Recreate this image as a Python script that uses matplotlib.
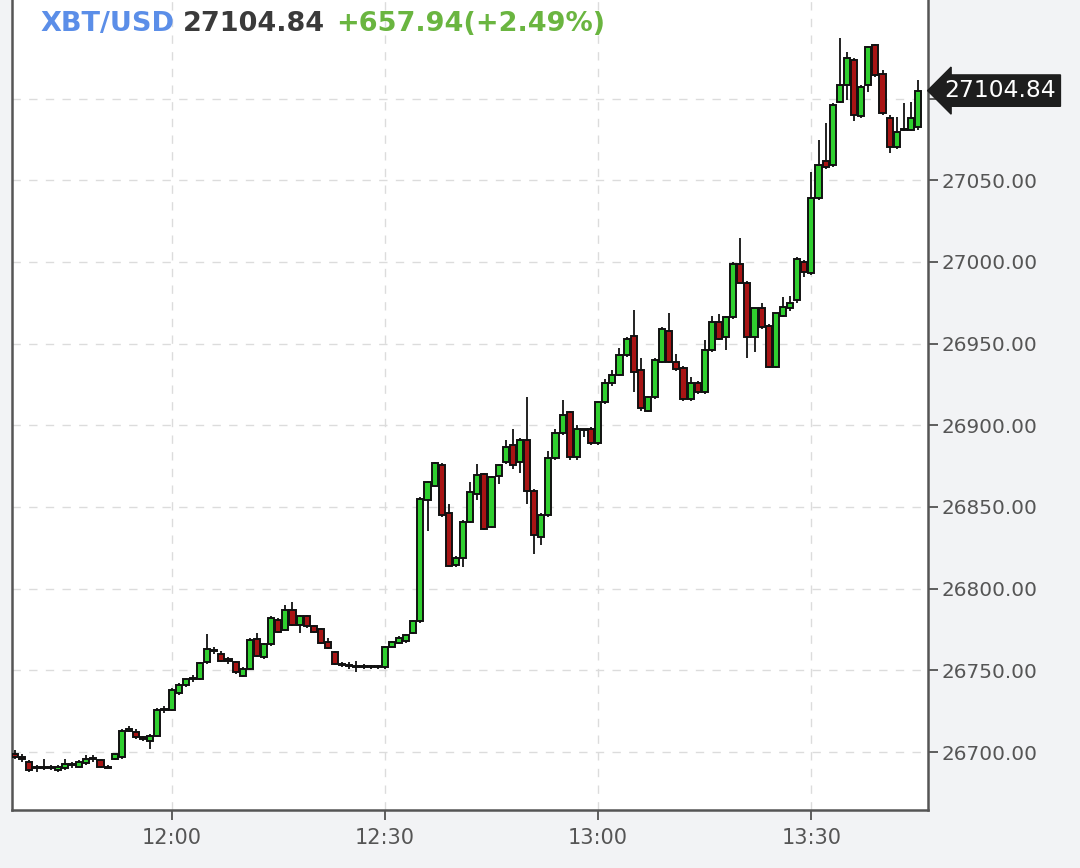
import numpy as np
import pandas as pd
import matplotlib
matplotlib.use("Agg")
import matplotlib.pyplot as plt
import matplotlib.dates as mdates
import matplotlib.transforms as mtransforms

# Candele da 1 minuto, 11:38 -> 13:45
opens = [26699, 26697, 26694, 26690, 26690, 26691, 26689, 26690, 26692, 26691,
         26693, 26696, 26695, 26690.5, 26695.5, 26697, 26713, 26712.5, 26709, 26707,
         26710, 26726, 26726, 26736, 26741, 26744.5, 26744.5, 26755, 26762, 26760,
         26757, 26755, 26746.5, 26750.6, 26769, 26758, 26766, 26781, 26774.6, 26787,
         26778, 26783, 26777, 26775, 26767.5, 26761, 26754, 26753, 26752, 26752.5,
         26752, 26752.5, 26752, 26764.5, 26767, 26768, 26772.6, 26780, 26854, 26863,
         26875.6, 26846, 26814.5, 26818.5, 26841, 26858, 26870.4, 26837.8, 26868.8, 26877.6,
         26887.8, 26877.6, 26891, 26860, 26831.6, 26845, 26880, 26895, 26908, 26880.7,
         26897, 26898, 26889, 26914, 26925.6, 26930.7, 26943, 26954.6, 26933.8, 26909,
         26917.4, 26939, 26958, 26939, 26935, 26916, 26925.6, 26920.5, 26946, 26963.3,
         26954, 26966, 26999, 26987, 26954, 26971.5, 26961, 26935.8, 26967, 26971.5,
         26976.6, 27000, 26993, 27039, 27062, 27059.4, 27098, 27108, 27123.6, 27089,
         27108, 27132.8, 27115, 27088, 27070.5, 27081, 27081, 27082.8]
highs = [26701, 26699, 26695, 26692, 26696, 26692, 26692, 26696, 26694, 26695,
         26698, 26698, 26696, 26692, 26699, 26714, 26716, 26714, 26710, 26711,
         26727, 26728, 26739, 26742, 26745, 26747, 26755, 26772, 26764, 26762,
         26758, 26756, 26752, 26770, 26773, 26767, 26783, 26782, 26790, 26792,
         26784, 26784, 26778, 26776, 26770, 26762, 26755, 26755, 26756, 26754,
         26753, 26753, 26765, 26768, 26771, 26772, 26781, 26856, 26866, 26877.5,
         26877, 26852, 26820, 26842, 26865, 26876, 26871, 26869, 26876, 26891,
         26898, 26892, 26917, 26861, 26846, 26884, 26898, 26915.4, 26909, 26900,
         26898, 26899, 26915, 26928.6, 26933.8, 26947, 26954, 26970.5, 26941, 26918,
         26941, 26960, 26968.5, 26943.6, 26936, 26929.5, 26927, 26952, 26967, 26968,
         26967, 27000, 27014.4, 26988, 26972, 26975, 26962, 26969, 26978.7, 26979,
         27003, 27001, 27055, 27074.7, 27085, 27097, 27137, 27128.7, 27125, 27108,
         27132, 27133.5, 27117.5, 27090, 27088.9, 27097, 27098, 27111.4]
lows = [26696, 26694, 26688, 26688, 26689, 26689, 26688, 26689, 26690, 26690,
        26692, 26694, 26690, 26690, 26695, 26696, 26712, 26708, 26707, 26702,
        26709, 26724, 26725, 26735, 26740, 26743, 26744, 26754, 26760, 26755,
        26754, 26748, 26746, 26750, 26758, 26757, 26765, 26773, 26774, 26777,
        26773, 26776, 26773, 26766, 26763, 26753, 26752, 26751, 26749, 26751,
        26751, 26751, 26751, 26764, 26766, 26767, 26772, 26779, 26835, 26862,
        26844, 26813, 26813, 26813, 26840, 26854, 26836, 26837, 26864, 26876,
        26873.5, 26871, 26852, 26821.5, 26826.5, 26844, 26879, 26894, 26878.6, 26879,
        26892.8, 26888, 26888, 26913, 26924, 26930, 26942, 26920.5, 26909, 26908,
        26916, 26938, 26938, 26933, 26915, 26915, 26919, 26919, 26945, 26952,
        26946, 26965, 26998, 26941, 26945, 26959, 26935, 26935, 26966, 26970,
        26975, 26991, 26992, 27038, 27057, 27058, 27097, 27099, 27086, 27088,
        27104, 27113, 27090, 27066.7, 27069, 27080, 27080, 27081]
closes = [26697, 26696, 26689, 26691, 26691, 26690, 26691, 26692.5, 26692.5, 26694,
          26696, 26696.5, 26690.6, 26691, 26699, 26713, 26714, 26709, 26708, 26710,
          26726, 26726.5, 26738, 26741, 26744.5, 26745, 26754.5, 26763, 26762.5, 26756,
          26755.5, 26749, 26751, 26768.5, 26759, 26766, 26782, 26773.6, 26787, 26778,
          26783, 26777, 26773.6, 26766.5, 26763.5, 26754, 26753, 26752.5, 26752.5, 26752,
          26752.5, 26752, 26764.4, 26767.5, 26770, 26771.6, 26780, 26855, 26865.4, 26876.7,
          26845, 26814, 26818.5, 26841, 26859, 26869.4, 26836.8, 26868.4, 26875.5, 26886.4,
          26875.5, 26891, 26860, 26832.7, 26845, 26880, 26895, 26906, 26880.7, 26898,
          26897.5, 26889, 26914.4, 26925.6, 26930.7, 26943, 26953, 26932.7, 26910.3, 26917.4,
          26940, 26958.7, 26939, 26934.6, 26915.8, 26925.6, 26920.5, 26946, 26963.3, 26953,
          26966.4, 26999, 26987, 26954, 26971.5, 26960, 26935.8, 26968.5, 26972.5, 26975,
          27002, 26994, 27039, 27059.4, 27058, 27096, 27108, 27124.7, 27090, 27107,
          27131.8, 27114.4, 27091, 27070.5, 27079.7, 27081.5, 27088, 27104.84]

ultimo_prezzo = "27104.84"
variazione = "+657.94(+2.49%)"
simbolo = "XBT/USD"
livelli_y = [26700, 26750, 26800, 26850, 26900, 26950, 27000, 27050, 27100]

# Asse dei tempi
orari = pd.date_range("2023-05-01 11:38", periods=len(closes), freq="min")
x = mdates.date2num(orari.to_pydatetime())
o = np.array(opens)
c = np.array(closes)
colori = np.where(c >= o, "#2fcf2f", "#a81414")
larghezza = 0.86 / 1440

fig = plt.figure(figsize=(10.8, 8.68), dpi=100, facecolor="#f2f3f5")
ax = fig.add_axes([12 / 1080, 1 - 810 / 868, 916 / 1080, 810 / 868])
ax.set_facecolor("white")

# Griglia tratteggiata
for v in livelli_y:
    ax.axhline(v, color="#dcdcdc", lw=1, ls=(0, (6, 6)), zorder=0)
ax.xaxis.set_major_locator(mdates.MinuteLocator(byminute=[0, 30]))
ax.xaxis.set_major_formatter(mdates.DateFormatter("%H:%M"))
ax.grid(axis="x", color="#dcdcdc", lw=1, ls=(0, (6, 6)), zorder=0)

# Candele
ax.vlines(x, lows, highs, color="#222222", lw=1.4, zorder=2)
ax.bar(x, c - o, bottom=o, width=larghezza, color=colori,
       edgecolor="#111111", linewidth=1.4, zorder=3)

ax.set_xlim(x[0] - 0.45 / 1440, x[0] + 128.4 / 1440)
ax.set_ylim(26664.5, 27160.3)

# Assi
ax.yaxis.tick_right()
ax.set_yticks(livelli_y)
ax.set_yticklabels([f"{v:.2f}" if v < 27100 else "" for v in livelli_y])
ax.tick_params(axis="y", length=7, width=1.2, color="#444444", labelsize=14.4,
               labelcolor="#555555", pad=3)
ax.tick_params(axis="x", length=7, width=1.2, color="#444444", labelsize=15,
               labelcolor="#555555", pad=6)
for lato in ["left", "bottom", "right"]:
    ax.spines[lato].set_color("#555555")
    ax.spines[lato].set_linewidth(1.8)
ax.spines["top"].set_visible(False)

# Etichetta ultimo prezzo
trans = mtransforms.blended_transform_factory(ax.transAxes, ax.transData)
ax.text(1.018, float(ultimo_prezzo), ultimo_prezzo, transform=trans,
        ha="left", va="center", fontsize=16.8, color="white", clip_on=False,
        bbox=dict(boxstyle="larrow,pad=0.18", fc="#1e1e1e", ec="#1e1e1e"))

# Titolo
fig.text(40 / 1080, 1 - 24 / 868, simbolo, fontsize=19.5, fontweight="bold",
         color="#5b8ee8", va="center")
fig.text(183 / 1080, 1 - 24 / 868, ultimo_prezzo, fontsize=19.5, fontweight="bold",
         color="#3a3a3a", va="center")
fig.text(336 / 1080, 1 - 24 / 868, variazione, fontsize=19.5, fontweight="bold",
         color="#6ab540", va="center")

fig.savefig("out.png", dpi=100, facecolor=fig.get_facecolor())
